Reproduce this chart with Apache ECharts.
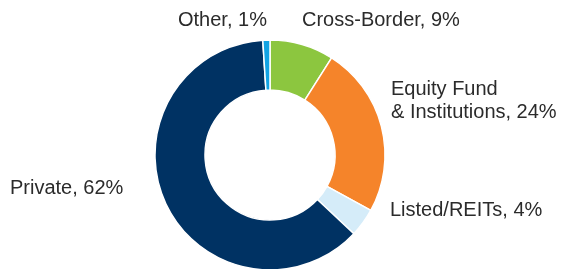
<!DOCTYPE html>
<html>
<head>
<meta charset="utf-8">
<script src="https://cdn.jsdelivr.net/npm/echarts@6/dist/echarts.min.js"></script>
<style>
  html, body { margin: 0; padding: 0; background: #fff; }
  #main { width: 562px; height: 269px; }
</style>
</head>
<body>
<div id="main"></div>
<script>
// slices, clockwise from the top
const names = ['Cross-Border', 'Equity Fund\n& Institutions', 'Listed/REITs', 'Private', 'Other'];
const shares = [9, 24, 4, 62, 1];
const colors = ['#8cc63f', '#f5842a', '#d5ecf9', '#003263', '#12a3e3'];

// where each label sits (left edge, middle)
const labelPos = [[302, 20], [391, 101], [390, 210], [10, 188], [178, 20]];

const chart = echarts.init(document.getElementById('main'));

chart.setOption({
  animation: false,
  series: [
    {
      type: 'pie',
      center: [270, 155],
      radius: [65, 115],
      startAngle: 90,
      clockwise: true,
      itemStyle: { borderColor: '#fff', borderWidth: 1.5 },
      label: {
        show: true,
        formatter: '{b}, {c}%',
        fontFamily: 'Liberation Sans, Arial, sans-serif',
        fontSize: 20,
        lineHeight: 23,
        color: '#2b2b2b',
        overflow: 'none',
        width: 300
      },
      labelLine: { show: false },
      labelLayout: function (params) {
        const p = labelPos[params.dataIndex];
        return { x: p[0], y: p[1], align: 'left', verticalAlign: 'middle' };
      },
      emphasis: { disabled: true },
      data: names.map((n, i) => ({
        name: n,
        value: shares[i],
        itemStyle: { color: colors[i] }
      }))
    }
  ]
});
</script>
</body>
</html>
